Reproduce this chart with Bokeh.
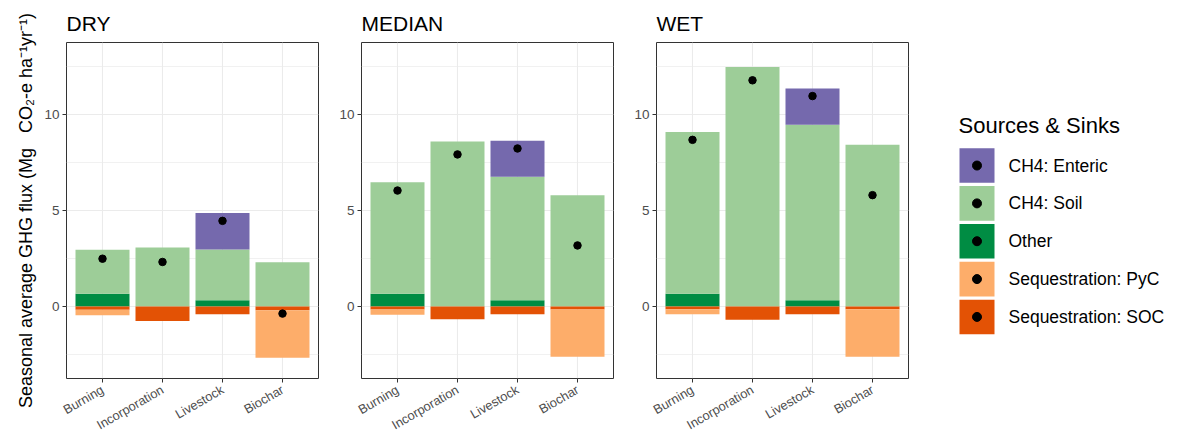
import math

from bokeh.core.properties import value
from bokeh.embed import file_html
from bokeh.layouts import row
from bokeh.models import ColumnDataSource, FixedTicker, Range1d
from bokeh.plotting import figure
from bokeh.resources import INLINE

# ---- data: seasonal average GHG flux, Mg CO2-e ha-1 yr-1 -------------------
practices = ["Burning", "Incorporation", "Livestock", "Biochar"]
scenarios = ["DRY", "MEDIAN", "WET"]

# sources (positive)
enteric_dry = [0.0, 0.0, 1.90, 0.0]
soil_dry = [2.28, 3.07, 2.64, 2.30]
other_dry = [0.67, 0.0, 0.33, 0.0]
# sinks (negative)
soc_dry = [-0.17, -0.75, -0.41, -0.19]
pyc_dry = [-0.29, 0.0, 0.0, -2.48]

enteric_median = [0.0, 0.0, 1.87, 0.0]
soil_median = [5.80, 8.59, 6.43, 5.80]
other_median = [0.67, 0.0, 0.33, 0.0]
soc_median = [-0.15, -0.67, -0.40, -0.15]
pyc_median = [-0.28, 0.0, 0.0, -2.47]

enteric_wet = [0.0, 0.0, 1.89, 0.0]
soil_wet = [8.42, 12.47, 9.14, 8.42]
other_wet = [0.67, 0.0, 0.33, 0.0]
soc_wet = [-0.14, -0.69, -0.40, -0.14]
pyc_wet = [-0.27, 0.0, 0.0, -2.48]

source_labels = ["CH4: Enteric", "CH4: Soil", "Other",
                 "Sequestration: PyC", "Sequestration: SOC"]
source_colors = ["#7569ad", "#9dcd98", "#008c43", "#fdad6a", "#e35205"]
color_of = dict(zip(source_labels, source_colors))

y_ticks = [0, 5, 10]
y_minor = [-2.5, 2.5, 7.5, 12.5]

FONT = "Liberation Sans"
GAP = "\u00a0" * 3
Y_LABEL = ("Seasonal average GHG flux (Mg" + GAP +
           "CO\u2082-e ha\u207b\u00b9yr\u207b\u00b9)")

series = {
    "DRY": (enteric_dry, soil_dry, other_dry, soc_dry, pyc_dry),
    "MEDIAN": (enteric_median, soil_median, other_median, soc_median, pyc_median),
    "WET": (enteric_wet, soil_wet, other_wet, soc_wet, pyc_wet),
}

TOP, BOTTOM = 42, 59


def panel(name, width, left, show_ylabel):
    enteric, soil, other, soc, pyc = series[name]
    xs = list(range(1, len(practices) + 1))
    net = [sum(v) for v in zip(enteric, soil, other, soc, pyc)]
    src = ColumnDataSource(dict(x=xs, enteric=enteric, soil=soil, other=other,
                                soc=soc, pyc=pyc, net=net))

    p = figure(width=width, height=441, title=name,
               x_range=Range1d(0.4, 4.6), y_range=Range1d(-3.75, 13.75),
               output_backend="svg", toolbar_location=None,
               min_border_left=left, min_border_right=12,
               min_border_top=TOP, min_border_bottom=BOTTOM)

    # positive contributions stacked upward, sinks stacked downward
    p.vbar_stack(["other", "soil", "enteric"], x="x", width=0.9, source=src,
                 fill_color=[color_of["Other"], color_of["CH4: Soil"],
                             color_of["CH4: Enteric"]],
                 line_color=None)
    p.vbar_stack(["soc", "pyc"], x="x", width=0.9, source=src,
                 fill_color=[color_of["Sequestration: SOC"],
                             color_of["Sequestration: PyC"]],
                 line_color=None)
    # net flux
    p.scatter("x", "net", source=src, size=7.5, color="black")

    p.title.text_font = FONT
    p.title.text_font_size = "21px"
    p.title.text_font_style = "normal"
    p.title.text_color = "black"
    p.title.align = "left"
    p.title.standoff = 15

    p.outline_line_color = "#333333"
    p.outline_line_width = 1

    p.xaxis.ticker = FixedTicker(ticks=xs)
    p.xaxis.major_label_overrides = {x: lab for x, lab in zip(xs, practices)}
    p.xaxis.major_label_orientation = math.pi / 6
    p.yaxis.ticker = FixedTicker(ticks=y_ticks, minor_ticks=y_minor)

    for ax in (p.xaxis[0], p.yaxis[0]):
        ax.axis_line_color = None
        ax.major_tick_line_color = "#333333"
        ax.major_tick_out = 4
        ax.major_tick_in = 0
        ax.minor_tick_line_color = None
        ax.major_label_text_font = FONT
        ax.major_label_text_color = "#4d4d4d"
    p.yaxis.major_label_text_font_size = "13.5px"
    p.yaxis.major_label_standoff = 3
    p.xaxis.major_label_text_font_size = "12.8px"
    p.xaxis.major_label_standoff = 6

    if show_ylabel:
        p.yaxis.axis_label = Y_LABEL
        p.yaxis.axis_label_text_font = FONT
        p.yaxis.axis_label_text_font_size = "18px"
        p.yaxis.axis_label_text_font_style = "normal"
        p.yaxis.axis_label_text_color = "black"
        p.yaxis.axis_label_standoff = 5

    p.xgrid.grid_line_color = "#ebebeb"
    p.xgrid.grid_line_width = 1.1
    p.ygrid.grid_line_color = "#ebebeb"
    p.ygrid.grid_line_width = 1.1
    p.ygrid.minor_grid_line_color = "#ebebeb"
    p.ygrid.minor_grid_line_width = 0.7
    return p


p_dry = panel("DRY", 330, 66, True)
p_med = panel("MEDIAN", 295, 31, False)
p_wet = panel("WET", 295, 31, False)

# ---- legend panel (frame aligned with the panels; one unit = one pixel) ----
lg = figure(width=266, height=441,
            x_range=Range1d(0, 266), y_range=Range1d(441 - BOTTOM, TOP),
            output_backend="svg", toolbar_location=None,
            x_axis_location=None, y_axis_location=None,
            min_border_left=0, min_border_right=0,
            min_border_top=TOP, min_border_bottom=BOTTOM)
lg.grid.visible = False
lg.outline_line_color = None

key_x = 56.5
key_y = [166.5 + 38.3 * i for i in range(len(source_labels))]
lg.rect(x=[key_x] * len(key_y), y=key_y, width=35, height=35,
        fill_color=source_colors, line_color=None)
lg.scatter(x=[key_x] * len(key_y), y=key_y, size=9, color="black")
lg.text(x=[88] * len(key_y), y=key_y, text=source_labels,
        text_font=value(FONT), text_font_size="17.5px",
        text_baseline="middle", text_align="left", text_color="black")
lg.text(x=[38], y=[126], text=["Sources & Sinks"],
        text_font=value(FONT), text_font_size="22px",
        text_baseline="middle", text_align="left", text_color="black")

layout = row(p_dry, p_med, p_wet, lg)
open("out.html", "w").write(file_html(layout, INLINE))
